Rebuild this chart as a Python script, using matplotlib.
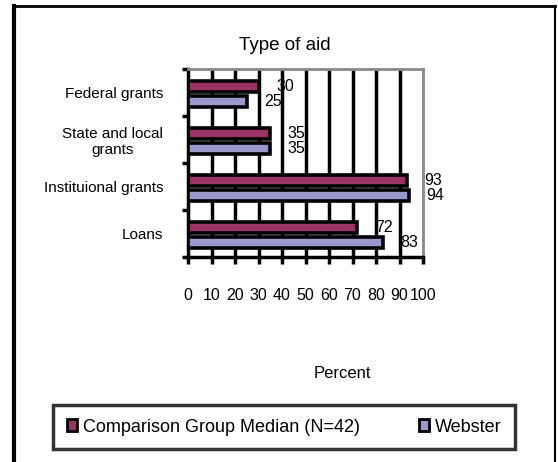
import matplotlib
matplotlib.use("Agg")
import matplotlib.pyplot as plt
from matplotlib.lines import Line2D
from matplotlib.patches import Patch
import numpy as np

plt.rcParams['font.family'] = ['Liberation Sans', 'DejaVu Sans']

# data, top to bottom as shown
categories = ["Federal grants", "State and local\ngrants", "Instituional grants", "Loans"]
comparison = [30, 35, 93, 72]
webster = [25, 35, 94, 83]
series_names = ["Comparison Group Median (N=42)", "Webster"]
x_ticks = [0, 10, 20, 30, 40, 50, 60, 70, 80, 90, 100]

maroon = "#993366"
lavender = "#9999cc"

W, H = 558, 462
fig = plt.figure(figsize=(W / 100, H / 100), dpi=100)

# plot area in pixels
left, right, top, bottom = 188, 423, 69, 257
ax = fig.add_axes([left / W, 1 - bottom / H, (right - left) / W, (bottom - top) / H])

ypos = np.arange(len(categories))[::-1] - 0.03
off = 0.158
hgt = 0.245
ax.barh(ypos + off, comparison, height=hgt, color=maroon, edgecolor="black", linewidth=2.6, zorder=3)
ax.barh(ypos - off, webster, height=hgt, color=lavender, edgecolor="black", linewidth=2.6, zorder=3)

for y, c, w in zip(ypos, comparison, webster):
    ax.text(c + 7.5, y + off, str(c), va="center", ha="left", fontsize=11.5, zorder=2)
    ax.text(w + 7.5, y - off, str(w), va="center", ha="left", fontsize=11.5, zorder=2)

ax.set_xlim(0, 100)
ax.set_ylim(-0.5, len(categories) - 0.5)
ax.set_xticks(x_ticks)
ax.set_xticklabels([str(t) for t in x_ticks], fontsize=11.5)
ax.tick_params(axis="x", direction="out", length=5, width=2.5, pad=17)
ax.set_yticks(np.arange(len(categories))[::-1])
ax.set_yticklabels(categories, fontsize=11, ha="right", multialignment="center")
ax.set_yticks(np.arange(len(categories) + 1) - 0.5, minor=True)
ax.tick_params(axis="y", which="major", length=0, pad=18)
ax.tick_params(axis="y", which="minor", length=4, width=2.5, direction="out")

for xv in x_ticks[1:-1]:
    ax.axvline(xv, color="black", linewidth=2.5, zorder=1)

ax.spines["left"].set_linewidth(2.5)
ax.spines["bottom"].set_linewidth(2.5)
ax.spines["top"].set_color("#888888")
ax.spines["right"].set_color("#888888")
ax.spines["top"].set_linewidth(2)
ax.spines["right"].set_linewidth(2)

fig.text(285 / W, 1 - 45 / H, "Type of aid", ha="center", va="center", fontsize=13.5)
fig.text(342 / W, 1 - 373 / H, "Percent", ha="center", va="center", fontsize=12)

# legend
handles = [Patch(facecolor=maroon, edgecolor="black", linewidth=2),
           Patch(facecolor=lavender, edgecolor="black", linewidth=2)]
leg = fig.legend(handles, series_names, loc="upper left",
                 bbox_to_anchor=(53 / W, 1 - 450 / H, (515 - 53) / W, 45 / H),
                 mode="expand", ncol=2, fontsize=13, handlelength=0.6, handleheight=0.6,
                 handletextpad=0.3, columnspacing=2.3, borderpad=0.75,
                 borderaxespad=0, fancybox=False)
leg.get_frame().set_edgecolor("black")
leg.get_frame().set_linewidth(2.5)

# outer frame
fig.add_artist(Line2D([14 / W, 14 / W], [0, 1 - 6 / H], color="black", linewidth=3, transform=fig.transFigure))
fig.add_artist(Line2D([14 / W, 555 / W], [1 - 6 / H, 1 - 6 / H], color="black", linewidth=2, transform=fig.transFigure))
fig.add_artist(Line2D([555 / W, 555 / W], [0, 1 - 6 / H], color="black", linewidth=1.5, transform=fig.transFigure))

fig.savefig("out.png", dpi=100)
